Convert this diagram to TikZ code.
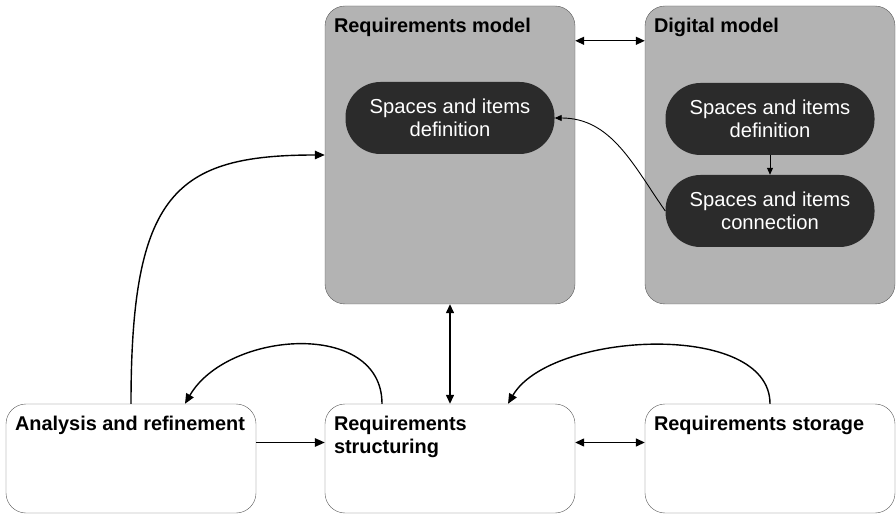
\documentclass[tikz,border=0pt]{standalone}
\usepackage{fontspec}
\setmainfont{Liberation Sans}
\usetikzlibrary{positioning,arrows.meta}
\definecolor{boxgray}{HTML}{B3B3B3}
\definecolor{pilldark}{HTML}{2B2B2B}
\definecolor{edgegray}{HTML}{5A5A5A}

\begin{document}
\begin{tikzpicture}[x=1pt,y=1pt,
  every node/.style={font=\fontsize{20.2}{23}\selectfont},
  panel/.style={draw=edgegray, fill=boxgray, rounded corners=20pt, minimum width=250pt, minimum height=298pt, inner sep=0pt},
  block/.style={draw=edgegray, fill=white, rounded corners=20pt, minimum width=250pt, minimum height=109pt, inner sep=0pt},
  pill/.style={fill=pilldark, text=white, rounded corners=35pt, minimum width=209pt, minimum height=72pt, align=center},
  title/.style={font=\fontsize{19.9}{23}\selectfont\bfseries, align=left, inner sep=0pt},
  link/.style={-{Triangle[length=10pt,width=8.5pt]}, line width=1.4pt},
  both/.style={{Triangle[length=9pt,width=8pt]}-{Triangle[length=9pt,width=8pt]}, line width=1.4pt},
  thin link/.style={-{Triangle[length=7pt,width=6pt]}, line width=0.9pt}]
  \useasboundingbox (0,0) rectangle (896,514);
  \node[panel] (rm) at (450,359) {};
  \node[panel] (dm) at (770,359) {};
  \node[pill] (rd) at (450,396) {Spaces and items\\definition};
  \node[pill] (dd) at (770,395) {Spaces and items\\definition};
  \node[pill] (dc) at (770,303) {Spaces and items\\connection};
  \node[block] (ar) at (131,55.5) {};
  \node[block] (rs) at (450,55.5) {};
  \node[block] (st) at (770,55.5) {};
  \node[title, below right=12pt and 9pt of rm.north west] {Requirements model};
  \node[title, below right=12pt and 9pt of dm.north west] {Digital model};
  \node[title, below right=12pt and 9pt of ar.north west] {Analysis and refinement};
  \node[title, below right=12pt and 9pt of rs.north west] {Requirements\\structuring};
  \node[title, below right=12pt and 9pt of st.north west] {Requirements storage};
  \draw[both] ([yshift=-35pt]rm.north east) -- ([yshift=-35pt]dm.north west);
  \draw[thin link] (dd) -- (dc);
  \draw[thin link] (dc.west) to[out=125, in=0] (rd.east);
  \draw[both] (rm) -- (rs);
  \draw[link] ([yshift=16pt]ar.east) -- ([yshift=16pt]rs.west);
  \draw[both] ([yshift=16pt]rs.east) -- ([yshift=16pt]st.west);
  \draw[link] ([xshift=-68pt]rs.north) to[out=90, in=60, looseness=1.1] ([xshift=54pt]ar.north);
  \draw[link] (st.north) to[out=90, in=60, looseness=0.82] ([xshift=58pt]rs.north);
  \draw[link] (ar.north) to[out=90, in=180, out distance=210pt, in distance=150pt] (rm.west);
\end{tikzpicture}
\end{document}
